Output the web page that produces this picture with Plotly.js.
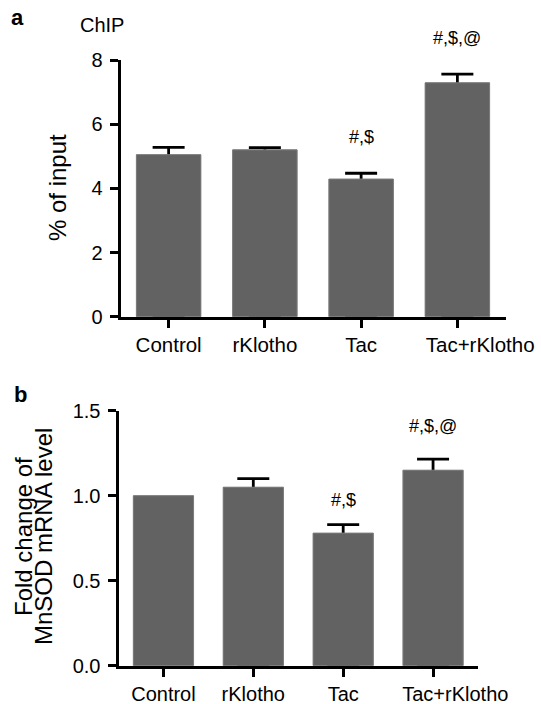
<!DOCTYPE html>
<html>
<head>
<meta charset="utf-8">
<script src="https://cdn.plot.ly/plotly-3.0.1.min.js"></script>
<style>html,body{margin:0;padding:0;background:#fff;}#chart{width:541px;height:704px;}</style>
</head>
<body>
<div id="chart"></div>
<script>
// Categories
const categories = ["Control", "rKlotho", "Tac", "Tac+rKlotho"];

// Panel a: ChIP (% of input)
const chipValues = [5.05, 5.20, 4.29, 7.29];
const chipErrors = [0.23, 0.07, 0.18, 0.27];
const chipLabels = ["", "", "#,$", "#,$,@"];
const chipTicks = [0, 2, 4, 6, 8];
const chipMax = 8;

// Panel b: MnSOD mRNA fold change
const mrnaValues = [1.00, 1.05, 0.78, 1.15];
const mrnaErrors = [NaN, 0.05, 0.05, 0.065];
const mrnaLabels = ["", "", "#,$", "#,$,@"];
const mrnaTicks = [0, 0.5, 1.0, 1.5];
const mrnaTickText = ["0.0", "0.5", "1.0", "1.5"];
const mrnaMax = 1.5;

const FONT = "Liberation Sans, Arial, Helvetica, sans-serif";
const barColor = "#626262";

// in the original figure the last category label sits to the right of its tick
const NBSP = "\u00a0";
const categoryTickText = categories.map((c, i) => i === categories.length - 1 ? NBSP.repeat(8) + c : c);

function barPair(vals, errs, xa, ya) {
  const minus = vals.map((v, i) => isNaN(errs[i]) ? NaN : v);
  return [
    {
      type: "bar", x: categories, y: vals, xaxis: xa, yaxis: ya,
      marker: {color: barColor, line: {width: 0}},
      error_y: {type: "data", symmetric: false, array: errs, arrayminus: minus,
                color: "#000", thickness: 2.8, width: 16, visible: true},
      hoverinfo: "skip", showlegend: false
    },
    {
      type: "bar", x: categories, y: vals, xaxis: xa, yaxis: ya,
      marker: {color: barColor, line: {width: 1, color: "#7c7c7c"}},
      hoverinfo: "skip", showlegend: false
    }
  ];
}

const data = [].concat(
  barPair(chipValues, chipErrors, "x", "y"),
  barPair(mrnaValues, mrnaErrors, "x2", "y2")
);

const axisCommon = {
  showline: true, linecolor: "#000", linewidth: 3,
  ticks: "outside", ticklen: 8, tickwidth: 3, tickcolor: "#000",
  showgrid: false, zeroline: false, fixedrange: true,
  tickfont: {family: FONT, size: 20, color: "#000"}
};

const annotations = [];
const txt = (size) => ({family: FONT, size: size, color: "#000"});
chipLabels.forEach((t, i) => {
  if (!t) return;
  const yTop = chipValues[i] + chipErrors[i];
  annotations.push({xref: "x", yref: "y domain", x: categories[i], y: (yTop + (i === 3 ? 1.12 : 1.13)) / chipMax,
    xanchor: "center", yanchor: "middle",
    text: t, showarrow: false, font: txt(18)});
});
mrnaLabels.forEach((t, i) => {
  if (!t) return;
  const yTop = mrnaValues[i] + mrnaErrors[i];
  annotations.push({xref: "x2", yref: "y2 domain", x: categories[i], y: (yTop + (i === 3 ? 0.195 : 0.145)) / mrnaMax,
    xanchor: "center", yanchor: "middle",
    text: t, showarrow: false, font: txt(18)});
});
const paperNote = (x, y, text, size, angle) => ({
  xref: "paper", yref: "paper", x: x / 541, y: 1 - y / 704, text: text, showarrow: false,
  xanchor: "center", yanchor: "middle", textangle: angle || 0, font: txt(size)
});
annotations.push(
  paperNote(17.5, 17, "<b>a</b>", 22),
  paperNote(102, 25, "ChIP", 20),
  paperNote(20, 394, "<b>b</b>", 22),
  paperNote(57, 188, "% of input", 24, -90),
  paperNote(23, 537, "Fold change of", 24, -90),
  paperNote(43, 537, "MnSOD mRNA level", 24, -90)
);

const layout = {
  width: 541, height: 704,
  margin: {l: 0, r: 0, t: 0, b: 0},
  paper_bgcolor: "#fff", plot_bgcolor: "#fff",
  barmode: "overlay", bargap: 0.33,
  font: {family: FONT, color: "#000"},
  showlegend: false,
  xaxis: Object.assign({}, axisCommon, {domain: [120.5/541, 505.5/541], range: [-0.5, 3.5],
    type: "category", anchor: "y", tickvals: categories, ticktext: categoryTickText, tickangle: 0,
    tickfont: {family: FONT, size: 20.5, color: "#000"}}),
  yaxis: Object.assign({}, axisCommon, {domain: [1 - 316.7/704, 1 - 60/704], range: [0, chipMax],
    tickvals: chipTicks, anchor: "x", ticklabelstandoff: 3}),
  xaxis2: Object.assign({}, axisCommon, {domain: [118.5/541, 478/541], range: [-0.5, 3.5],
    type: "category", anchor: "y2", tickvals: categories, ticktext: categoryTickText, tickangle: 0}),
  yaxis2: Object.assign({}, axisCommon, {domain: [1 - 665.7/704, 1 - 410.7/704], range: [0, mrnaMax],
    tickvals: mrnaTicks, ticktext: mrnaTickText, anchor: "x2", ticklabelstandoff: 3}),
  annotations: annotations
};

Plotly.newPlot("chart", data, layout, {displayModeBar: false, staticPlot: true});
</script>
</body>
</html>
